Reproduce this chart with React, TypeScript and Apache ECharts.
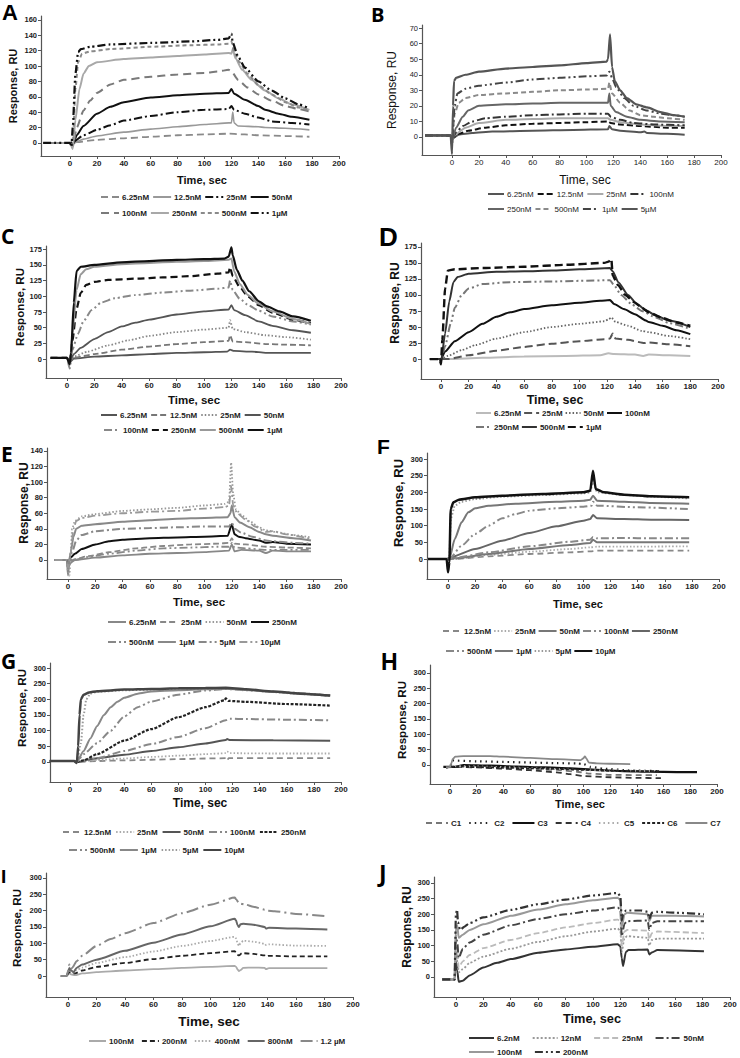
import React, { useEffect, useRef } from 'react';
import * as echarts from 'echarts';

type Pt = [number, number];

const TIME_TICKS = [0, 20, 40, 60, 80, 100, 120, 140, 160, 180, 200];
const Y_TICKS_160 = [0, 20, 40, 60, 80, 100, 120, 140, 160];
const Y_TICKS_70 = [0, 10, 20, 30, 40, 50, 60, 70];
const Y_TICKS_175 = [0, 25, 50, 75, 100, 125, 150, 175];
const Y_TICKS_140 = [0, 20, 40, 60, 80, 100, 120, 140];
const Y_TICKS_300 = [0, 50, 100, 150, 200, 250, 300];

// ---------- Panel A ----------
const A_ROW1 = ['6.25nM', '12.5nM', '25nM', '50nM'];
const A_ROW2 = ['100nM', '250nM', '500nM', '1µM'];
const A_1uM: Pt[] = [[-20,0],[0,0],[1,-5],[2,20],[4,90],[6,118],[8,122],[15,125],[30,128],[60,130],[90,132],[110,134],[118,136],[120,142],[121,130],[125,112],[130,98],[140,80],[150,68],[160,58],[170,50],[178,45]];
const A_500nM: Pt[] = [[-20,0],[0,0],[2,-3],[4,70],[6,105],[9,116],[15,119],[30,122],[60,125],[90,127],[110,128],[118,129],[120,132],[122,118],[126,105],[132,90],[140,75],[150,63],[160,53],[170,46],[178,42]];
const A_250nM: Pt[] = [[-20,0],[0,0],[2,-8],[4,30],[7,70],[10,90],[14,100],[20,105],[40,109],[60,111],[80,113],[100,115],[118,117],[120,116],[121,122],[123,110],[128,95],[135,82],[145,68],[155,58],[165,50],[178,43]];
const A_100nM: Pt[] = [[-20,0],[0,0],[2,-5],[5,20],[10,42],[15,55],[20,65],[30,76],[40,82],[60,86],[80,89],[100,91],[110,93],[118,95],[120,93],[125,82],[132,72],[140,63],[150,55],[160,48],[170,44],[178,41]];
const A_50nM: Pt[] = [[-20,0],[0,0],[2,-3],[5,10],[10,22],[20,38],[30,47],[40,53],[60,59],[80,62],[100,64],[118,65],[120,70],[122,64],[130,56],[140,48],[145,43],[155,38],[165,34],[178,30]];
const A_25nM: Pt[] = [[-20,0],[0,0],[3,2],[10,10],[20,17],[30,23],[40,29],[60,35],[80,40],[100,43],[118,44],[120,48],[122,43],[130,38],[140,33],[150,28],[165,26],[178,24]];
const A_12_5nM: Pt[] = [[-20,0],[0,0],[3,0],[10,5],[20,9],[40,14],[60,18],[80,21],[100,24],[118,26],[120,26],[121,40],[122,26],[125,22],[140,21],[145,20],[160,19],[178,17]];
const A_6_25nM: Pt[] = [[-20,0],[0,0],[5,1],[20,4],[40,6],[60,8],[80,10],[100,11],[118,12],[130,11],[140,10],[160,9],[178,8]];

// ---------- Panel B ----------
const B_ROW1 = ['6.25nM', '12.5nM', '25nM', '100nM'];
const B_ROW2 = ['250nM', '500nM', '1µM', '5µM'];
const B_5uM: Pt[] = [[-20,1],[-1,1],[0,-11],[0.8,20],[1.5,36],[3,38],[10,40],[20,42],[40,44],[60,45],[80,46],[100,47.5],[115,48.5],[116,50],[117.5,66],[119,45],[121,36],[125,30],[130,25],[137,21],[145,19],[155,16],[165,14],[173,13]];
const B_1uM: Pt[] = [[-20,1],[-1,1],[0,-5],[2,20],[4,28],[10,31],[20,33],[40,35],[60,37],[80,38],[100,39],[115,39.5],[117,42],[119,38],[122,32],[128,25],[135,20],[145,17],[155,15],[165,14],[173,13]];
const B_500nM: Pt[] = [[-20,1],[-1,1],[0,-3],[2,15],[5,22],[10,25],[20,27],[40,28],[60,29],[80,30],[100,30.5],[116,31],[117,35],[119,28],[125,22],[132,17],[140,14],[150,13],[160,12],[173,11]];
const B_250nM: Pt[] = [[-20,1],[-1,1],[0,-3],[3,6],[8,13],[12,17],[20,20],[40,21],[60,21.5],[80,22],[100,22],[116,22],[117,28],[118,20],[122,16],[130,13],[140,11],[155,10],[173,9.5]];
const B_100nM: Pt[] = [[-20,1],[-1,1],[0,-2],[3,3],[8,7],[15,10],[25,12],[40,13],[60,14],[80,14.5],[100,15],[116,15],[118,13],[125,11],[135,9],[150,8],[173,7.5]];
const B_25nM: Pt[] = [[-20,1],[-1,1],[0,-1],[3,2],[10,6],[20,9],[40,11],[60,11.5],[80,12],[100,12],[116,12],[118,11],[125,9.5],[140,8],[160,7],[173,7]];
const B_12_5nM: Pt[] = [[-20,1],[-1,1],[0,-1],[5,2],[12,4],[25,6],[40,7.5],[60,8.5],[80,9],[100,9.5],[116,10],[118,9],[125,8],[140,7],[160,6],[173,6]];
const B_6_25nM: Pt[] = [[-20,1],[-1,1],[0,-1],[5,1.5],[15,2.5],[30,3.5],[60,4],[90,4.5],[116,5],[117,7],[119,5],[125,4],[140,3],[143,3.5],[145,2.5],[160,2],[173,1.5]];

// ---------- Panel C ----------
const C_ROW1 = ['6.25nM', '12.5nM', '25nM', '50nM'];
const C_ROW2 = ['100nM', '250nM', '500nM', '1µM'];
const C_1uM: Pt[] = [[-12,2],[0,2],[2,-8],[3,10],[5,90],[7,140],[10,147],[20,150],[40,154],[60,156],[80,158],[100,159],[115,160],[118,163],[120,178],[121,165],[124,142],[128,125],[133,108],[140,92],[146,84],[155,76],[165,68],[178,61]];
const C_500nM: Pt[] = [[-12,2],[0,2],[2,-10],[4,40],[7,110],[10,135],[14,143],[20,147],[40,151],[60,153],[80,155],[100,156],[118,158],[120,160],[122,140],[126,120],[132,102],[140,88],[150,76],[165,64],[178,56]];
const C_250nM: Pt[] = [[-12,2],[0,2],[2,-5],[4,30],[7,80],[10,105],[14,118],[20,123],[30,126],[50,128],[70,130],[90,132],[110,136],[118,138],[119,146],[121,132],[126,115],[132,100],[140,86],[150,74],[165,63],[178,57]];
const C_100nM: Pt[] = [[-12,2],[0,2],[2,-15],[4,15],[8,40],[12,60],[18,78],[25,90],[35,97],[50,102],[70,106],[90,109],[110,112],[118,114],[119,125],[121,110],[126,96],[133,85],[140,77],[150,68],[165,60],[178,55]];
const C_50nM: Pt[] = [[-12,2],[0,2],[2,-3],[5,8],[10,18],[20,32],[30,43],[40,52],[50,58],[60,63],[80,71],[100,76],[118,79],[120,86],[122,78],[130,70],[140,60],[150,53],[165,46],[178,42]];
const C_25nM: Pt[] = [[-12,2],[0,2],[2,-3],[5,4],[15,12],[30,22],[45,30],[60,37],[80,43],[100,47],[118,50],[119,62],[121,48],[130,43],[145,38],[160,35],[178,31]];
const C_12_5nM: Pt[] = [[-12,2],[0,2],[2,-3],[5,2],[20,8],[40,15],[60,20],[80,24],[100,27],[118,29],[119,38],[121,28],[130,27],[145,24],[160,23],[178,22]];
const C_6_25nM: Pt[] = [[-12,2],[0,2],[2,-5],[5,1],[20,4],[40,6],[60,8],[80,10],[100,11],[117,12],[119,15],[122,13],[135,12],[145,10],[160,10],[178,10]];

// ---------- Panel D ----------
const D_ROW1 = ['6.25nM', '25nM', '50nM', '100nM'];
const D_ROW2 = ['250nM', '500nM', '1µM'];
const D_1uM: Pt[] = [[-8,0],[-1,0],[0,-8],[1,30],[3,110],[5,138],[10,140],[30,142],[60,144],[90,147],[118,150],[121,152],[123,156],[124,130],[128,115],[133,100],[140,88],[145,80],[150,73],[160,64],[170,57],[180,52]];
const D_500nM: Pt[] = [[-8,0],[-1,0],[0,-5],[3,40],[6,90],[9,120],[12,128],[20,133],[40,136],[60,137],[80,138],[100,140],[122,142],[124,137],[128,120],[135,100],[142,85],[148,76],[155,68],[165,60],[180,50]];
const D_250nM: Pt[] = [[-8,0],[-1,0],[0,-3],[3,20],[7,55],[10,80],[15,100],[20,110],[30,117],[50,120],[80,121],[100,122],[122,123],[125,115],[130,100],[138,85],[145,75],[155,65],[165,56],[180,47]];
const D_100nM: Pt[] = [[-8,0],[-1,0],[0,0],[3,12],[10,28],[20,42],[30,55],[40,66],[50,73],[60,78],[80,84],[100,88],[115,91],[122,92],[125,86],[132,78],[140,70],[148,60],[150,58],[160,52],[170,45],[180,39]];
const D_50nM: Pt[] = [[-8,0],[-1,0],[0,0],[5,5],[15,14],[25,22],[40,32],[60,42],[80,50],[100,55],[118,59],[121,62],[123,65],[126,58],[135,52],[145,44],[150,42],[165,36],[180,31]];
const D_25nM: Pt[] = [[-8,0],[-1,0],[5,0],[20,6],[40,13],[60,19],[80,24],[100,28],[118,31],[122,32],[124,40],[126,32],[135,30],[147,25],[150,26],[165,23],[180,20]];
const D_6_25nM: Pt[] = [[-8,0],[-1,0],[5,0],[30,2],[60,4],[90,5],[115,6],[121,9],[125,8],[140,7],[146,5],[150,7],[165,6],[180,5]];

// ---------- Panel E ----------
const E_ROW1 = ['6.25nM', '25nM', '50nM', '250nM'];
const E_ROW2 = ['500nM', '1µM', '5µM', '10µM'];
const E_50nM: Pt[] = [[-10,0],[-1,0],[0,-15],[1,-20],[2,10],[3,40],[5,50],[10,56],[20,59],[40,63],[60,65],[80,67],[100,70],[115,72],[118,75],[119.5,125],[121,85],[123,65],[127,58],[133,50],[140,42],[145,38],[152,36],[165,32],[178,29]];
const E_10uM: Pt[] = [[-10,0],[-1,0],[0,-10],[2,10],[4,40],[6,50],[10,54],[20,57],[40,60],[60,62],[80,63],[100,66],[115,68],[118,70],[119.5,95],[121,70],[124,60],[130,52],[137,43],[145,36],[150,37],[160,33],[178,27]];
const E_1uM: Pt[] = [[-10,0],[-1,0],[0,-10],[2,10],[4,30],[6,40],[10,44],[20,46],[40,49],[60,51],[80,53],[100,54],[117,55],[119,60],[120,70],[122,55],[126,48],[133,42],[140,36],[145,33],[150,31],[165,28],[178,25]];
const E_5uM: Pt[] = [[-10,0],[-1,0],[0,-5],[3,10],[6,25],[10,32],[20,37],[40,40],[60,41],[80,42],[100,43],[118,43],[120,48],[122,40],[127,35],[135,30],[145,25],[150,24],[165,22],[178,21]];
const E_250nM: Pt[] = [[-10,0],[-1,0],[0,-3],[2,3],[5,8],[10,14],[20,20],[30,24],[40,26],[60,28],[80,29],[100,30],[117,31],[120,46],[122,33],[125,30],[130,28],[140,25],[145,22],[150,23],[160,21],[178,20]];
const E_25nM: Pt[] = [[-10,0],[-1,0],[0,-3],[5,1],[15,5],[30,10],[50,15],[70,18],[90,20],[110,21],[118,22],[120,28],[122,21],[130,20],[145,17],[160,16],[178,15]];
const E_500nM: Pt[] = [[-10,0],[-1,0],[5,0],[15,4],[30,8],[50,12],[70,15],[90,16],[110,17],[118,17],[120,22],[122,16],[130,15],[145,13],[160,13],[178,13]];
const E_6_25nM: Pt[] = [[-10,0],[-1,0],[0,-20],[1,-5],[5,0],[20,3],[40,6],[60,8],[80,9],[100,10],[118,12],[120,20],[122,11],[127,13],[140,12],[145,9],[150,12],[165,11],[178,11]];

// ---------- Panel F ----------
const F_ROW1 = ['12.5nM', '25nM', '50nM', '100nM', '250nM'];
const F_ROW2 = ['500nM', '1µM', '5µM', '10µM'];
const F_10uM: Pt[] = [[-15,0],[-1,0],[0,-40],[1,-10],[2,150],[4,170],[8,178],[20,185],[40,190],[70,195],[100,200],[105,205],[107,265],[109,210],[115,200],[130,193],[150,188],[178,185]];
const F_5uM: Pt[] = [[-15,0],[-1,0],[0,-30],[1,0],[2,120],[5,160],[10,172],[20,180],[40,187],[70,192],[100,197],[105,200],[107,240],[110,200],[130,192],[150,187],[178,182]];
const F_1uM: Pt[] = [[-15,0],[-1,0],[1,0],[5,60],[10,110],[15,140],[20,152],[30,160],[50,166],[80,172],[100,175],[105,178],[107,190],[110,175],[130,172],[150,168],[178,166]];
const F_500nM: Pt[] = [[-15,0],[-1,0],[1,0],[10,40],[20,75],[30,100],[40,122],[50,135],[60,145],[80,152],[100,157],[106,160],[107,172],[110,160],[140,155],[178,150]];
const F_250nM: Pt[] = [[-15,0],[-1,0],[2,5],[20,30],[40,55],[60,78],[80,98],[100,115],[105,120],[107,132],[110,122],[130,120],[150,118],[178,117]];
const F_100nM: Pt[] = [[-15,0],[-1,0],[5,3],[30,20],[60,38],[90,52],[105,58],[107,66],[110,62],[130,63],[150,62],[178,62]];
const F_50nM: Pt[] = [[-15,0],[-1,0],[5,2],[30,15],[60,30],[90,42],[105,48],[107,58],[110,50],[130,50],[178,50]];
const F_25nM: Pt[] = [[-15,0],[-1,0],[5,0],[30,12],[60,22],[90,30],[105,35],[110,37],[130,37],[178,38]];
const F_12_5nM: Pt[] = [[-15,0],[-1,0],[5,0],[30,8],[60,15],[90,20],[105,23],[110,25],[130,25],[178,25]];

// ---------- Panel G ----------
const G_ROW1 = ['12.5nM', '25nM', '50nM', '100nM', '250nM'];
const G_ROW2 = ['500nM', '1µM', '5µM', '10µM'];
const G_10uM: Pt[] = [[-15,3],[3,3],[5,-3],[6,50],[7,150],[8,200],[10,215],[14,222],[20,226],[40,231],[60,233],[80,235],[100,236],[115,237],[130,232],[150,225],[170,218],[192,212]];
const G_5uM: Pt[] = [[-15,3],[3,3],[5,0],[8,60],[10,150],[12,200],[15,218],[20,224],[40,229],[60,231],[80,233],[100,234],[115,235],[130,230],[150,223],[170,217],[192,211]];
const G_1uM: Pt[] = [[-15,3],[3,3],[5,0],[10,35],[15,75],[20,115],[25,150],[30,175],[35,192],[40,205],[50,218],[60,225],[80,229],[100,232],[115,234],[130,230],[150,224],[170,218],[192,212]];
const G_500nM: Pt[] = [[-15,3],[3,3],[5,0],[10,25],[20,60],[30,100],[40,145],[50,175],[60,193],[80,215],[100,228],[115,233],[130,229],[160,222],[192,212]];
const G_250nM: Pt[] = [[-15,3],[3,3],[5,0],[10,5],[20,25],[40,68],[60,105],[80,143],[100,175],[114,197],[115,203],[117,195],[130,192],[160,185],[192,180]];
const G_100nM: Pt[] = [[-15,3],[3,3],[5,0],[20,12],[40,35],[60,57],[80,80],[100,108],[115,133],[118,138],[130,137],[160,135],[192,133]];
const G_50nM: Pt[] = [[-15,3],[3,3],[5,0],[20,12],[40,23],[60,35],[80,47],[100,59],[115,70],[116,73],[118,70],[150,69],[192,68]];
const G_25nM: Pt[] = [[-15,3],[3,3],[5,0],[20,6],[40,11],[60,16],[80,20],[100,25],[115,28],[116,33],[118,28],[150,27],[192,27]];
const G_12_5nM: Pt[] = [[-15,3],[3,3],[5,0],[20,3],[40,5],[60,7],[80,9],[100,11],[115,12],[116,5],[117,12],[150,12],[192,12]];

// ---------- Panel H ----------
const H_ROW1 = ['C1', 'C2', 'C3', 'C4', 'C5', 'C6', 'C7'];
const H_C7: Pt[] = [[-3,-8],[0,-6],[1,5],[2,20],[4,27],[10,29],[30,29],[40,27],[60,23],[80,19],[98,16],[100,22],[101,28],[102,22],[104,8],[110,5],[120,4],[135,3]];
const H_C2: Pt[] = [[-3,-8],[0,-6],[2,15],[5,14],[20,12],[40,10],[60,8],[80,6],[95,5],[100,3],[105,-6],[115,-12],[135,-18],[155,-20]];
const H_C3: Pt[] = [[-5,-6],[5,-6],[10,0],[30,-2],[50,-5],[70,-8],[90,-11],[110,-16],[130,-20],[150,-22],[170,-23],[185,-23]];
const H_C1: Pt[] = [[-3,-8],[5,-5],[20,-6],[40,-8],[60,-12],[80,-16],[95,-22],[105,-28],[120,-32],[140,-33],[155,-33]];
const H_C4: Pt[] = [[-3,-8],[5,-6],[20,-8],[40,-12],[60,-17],[80,-24],[90,-30],[100,-36],[120,-40],[140,-42],[158,-43]];
const H_C5: Pt[] = [[-3,-8],[5,-4],[20,-5],[40,-7],[60,-10],[80,-13],[100,-17],[120,-18],[140,-19],[158,-20]];
const H_C6: Pt[] = [[-3,-8],[5,-5],[20,-7],[40,-9],[60,-11],[80,-13],[100,-16],[120,-19],[140,-20],[158,-20]];

// ---------- Panel I ----------
const I_ROW1 = ['100nM', '200nM', '400nM', '800nM', '1.2 µM'];
const I_1_2uM: Pt[] = [[-5,0],[-1,0],[0,15],[1,35],[2,22],[3,25],[6,45],[10,62],[20,92],[30,113],[40,131],[60,162],[80,192],[100,218],[117,240],[118,235],[120,222],[125,218],[130,212],[138,203],[140,200],[145,198],[160,190],[182,183]];
const I_800nM: Pt[] = [[-5,0],[-1,0],[0,10],[1,25],[2,18],[4,12],[6,25],[10,35],[20,50],[40,77],[60,102],[80,127],[100,152],[117,175],[118,170],[119,155],[120,150],[121,158],[123,160],[130,157],[138,150],[139,145],[141,148],[160,145],[182,142]];
const I_400nM: Pt[] = [[-5,0],[-1,0],[0,8],[1,20],[2,15],[4,10],[6,18],[10,26],[20,40],[40,58],[60,75],[80,92],[100,107],[117,120],[118,115],[119,100],[120,92],[121,100],[123,108],[130,105],[138,99],[139,95],[141,97],[160,93],[182,92]];
const I_200nM: Pt[] = [[-5,0],[-1,0],[0,5],[1,15],[2,10],[5,8],[10,17],[20,28],[40,40],[60,52],[80,62],[100,70],[117,76],[118,72],[119,65],[120,63],[122,70],[130,68],[138,63],[139,60],[141,62],[160,60],[182,60]];
const I_100nM: Pt[] = [[-5,0],[-1,0],[0,3],[1,10],[2,5],[5,3],[10,8],[20,12],[40,17],[60,21],[80,25],[100,28],[117,31],[118,28],[119,20],[120,15],[121,18],[123,25],[130,26],[138,25],[139,21],[141,24],[160,24],[182,24]];

// ---------- Panel J ----------
const J_ROW1 = ['6.2nM', '12nM', '25nM', '50nM'];
const J_ROW2 = ['100nM', '200nM'];
const J_200nM: Pt[] = [[-10,-8],[-1,-8],[0,200],[0.8,215],[1.5,175],[3,150],[6,160],[10,172],[20,190],[40,214],[60,232],[80,247],[100,260],[118,268],[120,258],[121,180],[122,200],[124,212],[135,212],[140,208],[141,185],[143,205],[147,208],[160,205],[181,200]];
const J_100nM: Pt[] = [[-10,-8],[-1,-8],[0,160],[1,165],[2,125],[5,135],[10,150],[20,168],[40,195],[60,215],[80,232],[100,245],[118,253],[120,245],[121,160],[123,200],[125,205],[140,200],[141,178],[143,195],[147,195],[160,195],[181,193]];
const J_50nM: Pt[] = [[-10,-8],[-1,-8],[0,130],[1,110],[2,60],[5,90],[10,110],[20,135],[40,165],[60,185],[80,200],[100,212],[118,222],[120,215],[121,130],[123,170],[125,178],[140,180],[141,150],[143,172],[147,178],[181,178]];
const J_25nM: Pt[] = [[-10,-8],[-1,-8],[0,100],[1,80],[2,30],[5,50],[10,70],[20,92],[40,118],[60,140],[80,158],[100,172],[118,183],[120,178],[121,100],[123,145],[125,150],[140,148],[141,120],[143,140],[147,145],[181,140]];
const J_12nM: Pt[] = [[-10,-8],[-1,-8],[0,80],[1,50],[2,15],[5,25],[10,45],[20,65],[40,90],[60,112],[80,130],[100,145],[118,154],[120,148],[121,80],[123,125],[125,130],[140,125],[141,100],[143,118],[147,122],[181,122]];
const J_6_2nM: Pt[] = [[-10,-8],[-1,-8],[0,50],[1,20],[2,-15],[5,-12],[10,5],[20,30],[30,45],[40,57],[60,77],[80,88],[100,96],[118,104],[120,98],[121,60],[122,35],[124,80],[126,86],[140,88],[141,72],[143,78],[147,86],[181,82]];

// ---------- styles (colour, dash, width) ----------
type Dash = 'solid' | number[];
type Sty = [string, Dash, number];
const DASHDOT = [8, 3, 2, 3];
const DASHDOTDOT = [8, 3, 2, 3, 2, 3];
const DOT = [1.5, 2];

const FONT = '"Liberation Sans", Arial, sans-serif';
const FONT_OPEN = '"Open Sans", "Liberation Sans", Arial, sans-serif';

interface Panel {
  id: string;
  rows: string[][];
  yTicks: number[];
  curves: [string, Pt[], Sty][];
  grid: { left: number; top: number; width: number; height: number };
  xr: [number, number];
  yr: [number, number];
  bold: boolean;
  letter: { x: number; y: number; size: number; font: string };
  resp: { x: number; y: number; size: number };
  time: { x: number; y: number; size: number };
  legend: { rows: [number, number][]; w: number; gap: number };
}

const PANELS: Panel[] = [
  {
    id: 'A', rows: [A_ROW1, A_ROW2], yTicks: Y_TICKS_160,
    curves: [
      ['6.25nM', A_6_25nM, ['#8a8a8a', [7, 4], 1.8]],
      ['12.5nM', A_12_5nM, ['#999999', 'solid', 1.6]],
      ['25nM', A_25nM, ['#111111', DASHDOT, 2]],
      ['50nM', A_50nM, ['#111111', 'solid', 2]],
      ['100nM', A_100nM, ['#7a7a7a', [8, 5], 2]],
      ['250nM', A_250nM, ['#a8a8a8', 'solid', 2]],
      ['500nM', A_500nM, ['#8a8a8a', [4, 3], 2]],
      ['1µM', A_1uM, ['#111111', DASHDOTDOT, 2.2]],
    ],
    grid: { left: 41, top: 16, width: 298, height: 140 }, xr: [-21.6, 200], yr: [-17, 165], bold: true,
    letter: { x: 2, y: 12, size: 22, font: FONT }, resp: { x: 13, y: 86, size: 11 }, time: { x: 202, y: 180, size: 11 },
    legend: { rows: [[100, 197], [100, 213]], w: 18, gap: 3 },
  },
  {
    id: 'B', rows: [B_ROW1, B_ROW2], yTicks: Y_TICKS_70,
    curves: [
      ['6.25nM', B_6_25nM, ['#555555', 'solid', 2]],
      ['12.5nM', B_12_5nM, ['#111111', [6, 3], 2]],
      ['25nM', B_25nM, ['#aaaaaa', 'solid', 2]],
      ['100nM', B_100nM, ['#333333', DASHDOT, 2]],
      ['250nM', B_250nM, ['#666666', 'solid', 2]],
      ['500nM', B_500nM, ['#8a8a8a', [5, 3], 2]],
      ['1µM', B_1uM, ['#444444', DASHDOTDOT, 2]],
      ['5µM', B_5uM, ['#555555', 'solid', 2.2]],
    ],
    grid: { left: 422, top: 25, width: 299, height: 130 }, xr: [-22.3, 200], yr: [-11.6, 72], bold: false,
    letter: { x: 371, y: 14, size: 20, font: FONT_OPEN }, resp: { x: 392, y: 90, size: 12 }, time: { x: 585, y: 180, size: 12 },
    legend: { rows: [[487, 194], [487, 209]], w: 16, gap: 3 },
  },
  {
    id: 'C', rows: [C_ROW1, C_ROW2], yTicks: Y_TICKS_175,
    curves: [
      ['6.25nM', C_6_25nM, ['#555555', 'solid', 1.8]],
      ['12.5nM', C_12_5nM, ['#777777', [6, 3], 1.8]],
      ['25nM', C_25nM, ['#888888', DOT, 1.8]],
      ['50nM', C_50nM, ['#555555', 'solid', 1.8]],
      ['100nM', C_100nM, ['#888888', DASHDOTDOT, 2]],
      ['250nM', C_250nM, ['#111111', [7, 4], 2.2]],
      ['500nM', C_500nM, ['#999999', 'solid', 2]],
      ['1µM', C_1uM, ['#111111', 'solid', 2.2]],
    ],
    grid: { left: 46, top: 246, width: 295, height: 132 }, xr: [-15.3, 200], yr: [-30, 180], bold: true,
    letter: { x: 1, y: 236, size: 21, font: FONT_OPEN }, resp: { x: 20, y: 307, size: 11.5 }, time: { x: 194, y: 400, size: 11.5 },
    legend: { rows: [[100, 415], [103, 430]], w: 16, gap: 3 },
  },
  {
    id: 'D', rows: [D_ROW1, D_ROW2], yTicks: Y_TICKS_175,
    curves: [
      ['6.25nM', D_6_25nM, ['#bbbbbb', 'solid', 2]],
      ['25nM', D_25nM, ['#555555', [8, 4], 2]],
      ['50nM', D_50nM, ['#666666', DOT, 1.8]],
      ['100nM', D_100nM, ['#111111', 'solid', 2]],
      ['250nM', D_250nM, ['#777777', DASHDOTDOT, 2]],
      ['500nM', D_500nM, ['#333333', 'solid', 2]],
      ['1µM', D_1uM, ['#111111', [8, 4], 2.4]],
    ],
    grid: { left: 421, top: 243, width: 297, height: 136 }, xr: [-14.4, 200], yr: [-31, 181], bold: true,
    letter: { x: 379, y: 237, size: 26, font: FONT }, resp: { x: 395, y: 303, size: 12 }, time: { x: 555, y: 400, size: 12.5 },
    legend: { rows: [[475, 413], [475, 427]], w: 15, gap: 2 },
  },
  {
    id: 'E', rows: [E_ROW1, E_ROW2], yTicks: Y_TICKS_140,
    curves: [
      ['6.25nM', E_6_25nM, ['#888888', 'solid', 1.8]],
      ['25nM', E_25nM, ['#888888', [6, 3], 1.8]],
      ['50nM', E_50nM, ['#999999', DOT, 1.8]],
      ['250nM', E_250nM, ['#111111', 'solid', 2]],
      ['500nM', E_500nM, ['#888888', DASHDOTDOT, 1.8]],
      ['1µM', E_1uM, ['#888888', 'solid', 2]],
      ['5µM', E_5uM, ['#888888', DASHDOT, 2]],
      ['10µM', E_10uM, ['#999999', DASHDOT, 1.8]],
    ],
    grid: { left: 47, top: 448, width: 294, height: 131 }, xr: [-15.4, 200], yr: [-24.4, 143.8], bold: true,
    letter: { x: 1, y: 454, size: 21, font: FONT_OPEN }, resp: { x: 24, y: 503, size: 12 }, time: { x: 199, y: 602, size: 11.5 },
    legend: { rows: [[107, 622], [107, 642]], w: 18, gap: 3 },
  },
  {
    id: 'F', rows: [F_ROW1, F_ROW2], yTicks: Y_TICKS_300,
    curves: [
      ['12.5nM', F_12_5nM, ['#888888', [6, 4], 1.8]],
      ['25nM', F_25nM, ['#aaaaaa', DOT, 1.8]],
      ['50nM', F_50nM, ['#777777', 'solid', 2]],
      ['100nM', F_100nM, ['#888888', DASHDOT, 2]],
      ['250nM', F_250nM, ['#666666', 'solid', 2]],
      ['500nM', F_500nM, ['#888888', DASHDOTDOT, 2]],
      ['1µM', F_1uM, ['#777777', 'solid', 2]],
      ['5µM', F_5uM, ['#999999', DOT, 2]],
      ['10µM', F_10uM, ['#111111', 'solid', 2.5]],
    ],
    grid: { left: 427, top: 453, width: 292, height: 126 }, xr: [-15.5, 200], yr: [-60, 318], bold: true,
    letter: { x: 377, y: 446, size: 21, font: FONT }, resp: { x: 398, y: 503, size: 13 }, time: { x: 578, y: 604, size: 11 },
    legend: { rows: [[442, 631], [445, 651]], w: 18, gap: 2 },
  },
  {
    id: 'G', rows: [G_ROW1, G_ROW2], yTicks: Y_TICKS_300,
    curves: [
      ['12.5nM', G_12_5nM, ['#888888', [6, 4], 1.8]],
      ['25nM', G_25nM, ['#aaaaaa', DOT, 1.8]],
      ['50nM', G_50nM, ['#555555', 'solid', 2]],
      ['100nM', G_100nM, ['#888888', DASHDOT, 2]],
      ['250nM', G_250nM, ['#222222', [3, 1.5], 2.2]],
      ['500nM', G_500nM, ['#888888', DASHDOTDOT, 2]],
      ['1µM', G_1uM, ['#888888', 'solid', 2]],
      ['5µM', G_5uM, ['#999999', DOT, 2]],
      ['10µM', G_10uM, ['#444444', 'solid', 2.5]],
    ],
    grid: { left: 50, top: 663, width: 291, height: 119 }, xr: [-14.8, 200], yr: [-64, 316], bold: true,
    letter: { x: 1, y: 661, size: 21, font: FONT_OPEN }, resp: { x: 22, y: 708, size: 11.5 }, time: { x: 200, y: 803, size: 12 },
    legend: { rows: [[62, 832], [68, 850]], w: 18, gap: 4 },
  },
  {
    id: 'H', rows: [H_ROW1], yTicks: Y_TICKS_300,
    curves: [
      ['C1', H_C1, ['#777777', [6, 4], 1.8]],
      ['C2', H_C2, ['#222222', [1.5, 4], 2.2]],
      ['C3', H_C3, ['#111111', 'solid', 2.2]],
      ['C4', H_C4, ['#333333', [6, 4], 1.8]],
      ['C5', H_C5, ['#aaaaaa', [1.5, 3], 2]],
      ['C6', H_C6, ['#222222', [3, 2], 1.8]],
      ['C7', H_C7, ['#888888', 'solid', 1.8]],
    ],
    grid: { left: 430, top: 665, width: 287, height: 119 }, xr: [-15, 200], yr: [-62, 326], bold: true,
    letter: { x: 381, y: 662, size: 23, font: FONT }, resp: { x: 402, y: 720, size: 11.5 }, time: { x: 580, y: 804, size: 11 },
    legend: { rows: [[425, 823]], w: 22, gap: 7 },
  },
  {
    id: 'I', rows: [I_ROW1], yTicks: Y_TICKS_300,
    curves: [
      ['100nM', I_100nM, ['#aaaaaa', 'solid', 1.8]],
      ['200nM', I_200nM, ['#222222', [5, 3], 1.8]],
      ['400nM', I_400nM, ['#aaaaaa', DOT, 1.8]],
      ['800nM', I_800nM, ['#666666', 'solid', 2]],
      ['1.2 µM', I_1_2uM, ['#888888', [12, 4, 2, 4], 2]],
    ],
    grid: { left: 46, top: 873, width: 307, height: 124 }, xr: [-15.4, 200], yr: [-64, 315], bold: true,
    letter: { x: 1, y: 876, size: 19, font: FONT }, resp: { x: 17, y: 928, size: 11.5 }, time: { x: 209, y: 1021, size: 13.5 },
    legend: { rows: [[88, 1041]], w: 17, gap: 7 },
  },
  {
    id: 'J', rows: [J_ROW1, J_ROW2], yTicks: Y_TICKS_300,
    curves: [
      ['6.2nM', J_6_2nM, ['#333333', 'solid', 2]],
      ['12nM', J_12nM, ['#999999', [2, 2], 1.8]],
      ['25nM', J_25nM, ['#bbbbbb', [6, 3], 1.8]],
      ['50nM', J_50nM, ['#444444', DASHDOT, 2]],
      ['100nM', J_100nM, ['#999999', 'solid', 2]],
      ['200nM', J_200nM, ['#333333', DASHDOTDOT, 2.2]],
    ],
    grid: { left: 434, top: 877, width: 296, height: 120 }, xr: [-16, 200], yr: [-64, 319], bold: true,
    letter: { x: 379, y: 873, size: 23, font: FONT_OPEN }, resp: { x: 407, y: 927, size: 12 }, time: { x: 592, y: 1018, size: 12.8 },
    legend: { rows: [[468, 1038], [468, 1052]], w: 25, gap: 12 },
  },
];

function buildOption() {
  const grid: any[] = [];
  const xAxis: any[] = [];
  const yAxis: any[] = [];
  const series: any[] = [];
  const legend: any[] = [];
  const elements: any[] = [];

  PANELS.forEach((p, i) => {
    const weight = p.bold ? 'bold' : 'normal';
    grid.push({ ...p.grid, containLabel: false });
    const axisLine = { show: true, onZero: false, lineStyle: { color: '#555', width: 1.2 } };
    xAxis.push({
      gridIndex: i, type: 'value', min: p.xr[0], max: p.xr[1],
      axisLine,
      axisTick: { show: true, length: 3, customValues: TIME_TICKS, lineStyle: { color: '#555' } },
      axisLabel: { customValues: TIME_TICKS, fontSize: 8, fontWeight: weight, color: '#222', margin: 3, fontFamily: FONT },
      splitLine: { show: false },
    });
    yAxis.push({
      gridIndex: i, type: 'value', min: p.yr[0], max: p.yr[1],
      axisLine,
      axisTick: { show: true, length: 3, customValues: p.yTicks, lineStyle: { color: '#555' } },
      axisLabel: { customValues: p.yTicks, fontSize: 7.5, fontWeight: weight, color: '#222', margin: 4, fontFamily: FONT },
      splitLine: { show: false },
    });
    p.curves.forEach(([name, data, sty]) => {
      series.push({
        type: 'line', name: `${p.id}|${name}`, xAxisIndex: i, yAxisIndex: i, data,
        showSymbol: false, symbol: 'none', smooth: 0.2, smoothMonotone: 'x', clip: true,
        color: sty[0],
        lineStyle: { color: sty[0], type: sty[1], width: sty[2] },
        silent: true,
      });
    });
    p.rows.forEach((row, r) => {
      const [lx, ly] = p.legend.rows[r];
      legend.push({
        left: lx, top: ly - 5, orient: 'horizontal', padding: 0,
        itemWidth: p.legend.w, itemHeight: 8, itemGap: p.legend.gap,
        selectedMode: false,
        data: row.map((n) => `${p.id}|${n}`),
        formatter: (n: string) => n.slice(n.indexOf('|') + 1),
        itemStyle: { opacity: 0 },
        textStyle: { fontSize: 8, fontWeight: weight, color: '#222', fontFamily: FONT, lineHeight: 10, padding: [0, 0, 0, -2] },
      });
    });
    elements.push({
      type: 'text', x: p.letter.x, y: p.letter.y, silent: true,
      style: { text: p.id, font: `bold ${p.letter.size}px ${p.letter.font}`, fill: '#000', textAlign: 'left', textVerticalAlign: 'middle' },
    });
    elements.push({
      type: 'text', x: p.resp.x, y: p.resp.y, rotation: Math.PI / 2, silent: true,
      style: { text: 'Response, RU', font: `${weight} ${p.resp.size}px ${FONT}`, fill: '#111', textAlign: 'center', textVerticalAlign: 'middle' },
    });
    elements.push({
      type: 'text', x: p.time.x, y: p.time.y, silent: true,
      style: { text: 'Time, sec', font: `${weight} ${p.time.size}px ${FONT}`, fill: '#111', textAlign: 'center', textVerticalAlign: 'middle' },
    });
  });

  return {
    animation: false,
    backgroundColor: '#ffffff',
    grid, xAxis, yAxis, series, legend,
    graphic: { elements },
  };
}

export default function App() {
  const ref = useRef<HTMLDivElement>(null);
  useEffect(() => {
    document.body.style.margin = '0';
    if (!ref.current) return;
    const chart = echarts.init(ref.current, undefined, { renderer: 'svg' });
    chart.setOption(buildOption());
    return () => chart.dispose();
  }, []);
  return <div ref={ref} style={{ width: 740, height: 1058 }} />;
}
